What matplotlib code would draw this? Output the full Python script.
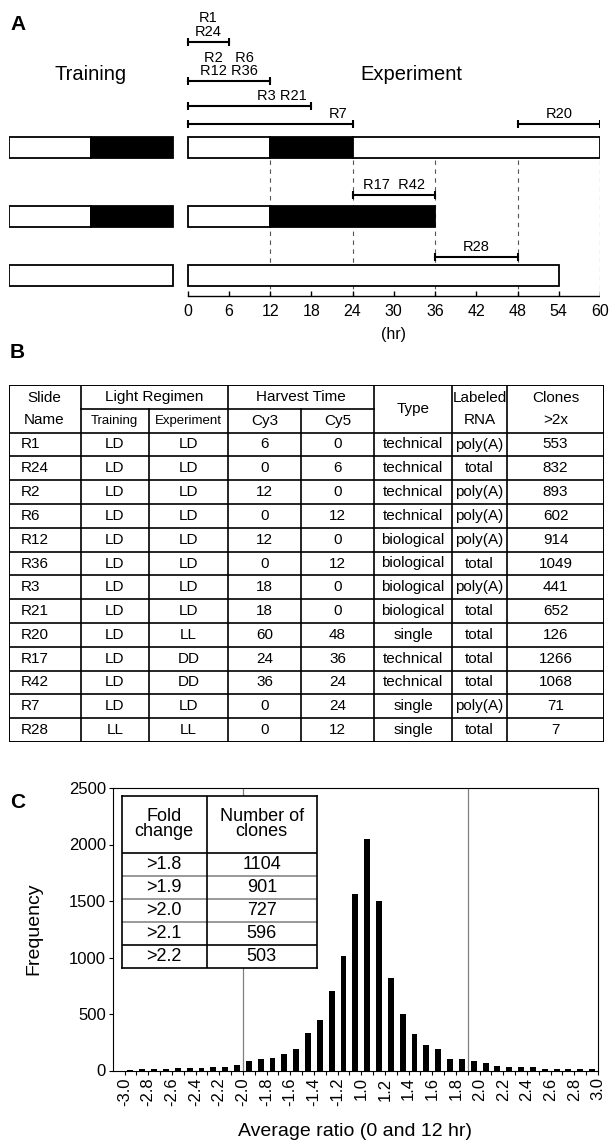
import matplotlib
matplotlib.use('Agg')
import matplotlib.pyplot as plt

plt.rcParams['font.family'] = ['Liberation Sans', 'DejaVu Sans']

# ---- panel A data ----
train_regimen = ['LD', 'LD', 'LL']
exp_schedule = [[(0, 12, 'L'), (12, 24, 'D'), (24, 60, 'L')],
                [(0, 12, 'L'), (12, 36, 'D')],
                [(0, 54, 'L')]]
pair_labels = [['R1', 'R24'], ['R2   R6', 'R12 R36'], ['R3 R21'], ['R7'],
               ['R20'], ['R17  R42'], ['R28']]
pair_start = [0, 0, 0, 0, 48, 24, 36]
pair_end = [6, 12, 18, 24, 60, 36, 48]
hour_ticks = list(range(0, 61, 6))
dash_hours = [12, 24, 36, 48, 60]

# ---- panel B data ----
slides = ['R1', 'R24', 'R2', 'R6', 'R12', 'R36', 'R3', 'R21', 'R20', 'R17', 'R42', 'R7', 'R28']
training = ['LD'] * 12 + ['LL']
experiment = ['LD', 'LD', 'LD', 'LD', 'LD', 'LD', 'LD', 'LD', 'LL', 'DD', 'DD', 'LD', 'LL']
cy3 = [6, 0, 12, 0, 12, 0, 18, 18, 60, 24, 36, 0, 0]
cy5 = [0, 6, 0, 12, 0, 12, 0, 0, 48, 36, 24, 24, 12]
types = ['technical', 'technical', 'technical', 'technical', 'biological', 'biological',
         'biological', 'biological', 'single', 'technical', 'technical', 'single', 'single']
rna = ['poly(A)', 'total', 'poly(A)', 'poly(A)', 'poly(A)', 'total', 'poly(A)', 'total',
       'total', 'total', 'total', 'poly(A)', 'total']
clones = [553, 832, 893, 602, 914, 1049, 441, 652, 126, 1266, 1068, 71, 7]

# ---- panel C data ----
freq = [0, 6, 15, 12, 15, 18, 18, 21, 35, 35,
        50, 80, 100, 112, 147, 186, 330, 448, 707, 1010,
        1562, 2045, 1497, 816, 498, 321, 227, 189, 106, 100,
        80, 62, 38, 35, 27, 27, 15, 9, 9, 9, 9]
xlabels = ['-3.0', '-2.8', '-2.6', '-2.4', '-2.2', '-2.0', '-1.8', '-1.6', '-1.4', '-1.2',
           '1.0', '1.2', '1.4', '1.6', '1.8', '2.0', '2.2', '2.4', '2.6', '2.8', '3.0']
fold = ['>1.8', '>1.9', '>2.0', '>2.1', '>2.2']
n_clones = [1104, 901, 727, 596, 503]

W, H = 609, 1142
fig = plt.figure(figsize=(W / 100, H / 100), dpi=100)


def px_axes(x0, y0, x1, y1):
    a = fig.add_axes([x0 / W, 1 - y1 / H, (x1 - x0) / W, (y1 - y0) / H])
    a.set_axis_off()
    return a


# panel letters
for lab, y in [('A', 25), ('B', 352), ('C', 802)]:
    fig.text(10 / W, 1 - y / H, lab, fontsize=15, fontweight='bold', va='center')

# ================= panel A =================
hpx = (600 - 187.6) / 60.0
axA = px_axes(8.5, 0, 600, 350)
axA.set_xlim(-(187.6 - 8.5) / hpx, 60)
axA.set_ylim(350, 0)
t0 = -(187.6 - 8.5) / hpx
row_y = [147.5, 216, 275.5]
bh = 21
for i, y in enumerate(row_y):
    if train_regimen[i] == 'LD':
        segs = [(t0, 12, 'L'), (t0 + 12, 12, 'D')]
    else:
        segs = [(t0, 24, 'L')]
    for s, w, c in segs:
        axA.barh(y, w, left=s, height=bh, color='k' if c == 'D' else 'w',
                 edgecolor='k', lw=1.3, zorder=3)
    for s, e, c in exp_schedule[i]:
        axA.barh(y, e - s, left=s, height=bh, color='k' if c == 'D' else 'w',
                 edgecolor='k', lw=1.3, zorder=3)

axA.vlines(dash_hours, 160, 296, colors='#555555', linestyles=(0, (4, 4)), lw=0.8, zorder=1)
axA.plot([0, 60], [296, 296], color='k', lw=1.0)
axA.vlines(hour_ticks, 291, 296, colors='k', lw=1.0)
for h in hour_ticks:
    axA.text(h, 312, str(h), ha='center', va='center', fontsize=11.5)
axA.text(30, 334, '(hr)', ha='center', va='center', fontsize=11.5)
axA.text(-14.1, 75, 'Training', ha='center', va='center', fontsize=14.5)
axA.text(32.6, 75, 'Experiment', ha='center', va='center', fontsize=14.5)

bracket_y = [42, 81, 106, 124, 124, 195, 257]
for k, labs in enumerate(pair_labels):
    s, e, y = pair_start[k], pair_end[k], bracket_y[k]
    axA.plot([s, e], [y, y], color='k', lw=1.5)
    axA.vlines([s, e], y - 4, y + 4, colors='k', lw=1.5)
    if k in (2, 3):
        xt, ha = e - 0.7, 'right'
    else:
        xt, ha = (s + e) / 2, 'center'
    for j, t in enumerate(reversed(labs)):
        axA.text(xt, y - 10 - 13.5 * j, t, ha=ha, va='center', fontsize=10.5)

# ================= panel B =================
x_edges = [8.5, 80.5, 149, 228, 301, 374, 452, 507, 604]
axB = px_axes(8.5, 385, 604, 742)
axB.set_xlim(8.5, 604)
axB.set_ylim(15, 0)
nrow = len(slides)
lk = dict(color='k', lw=1.2)
axB.plot([8.5, 604, 604, 8.5, 8.5], [0, 0, 15, 15, 0], color='k', lw=1.4)
axB.plot([x_edges[1], x_edges[5]], [1, 1], **lk)
for r in range(2, 15):
    axB.plot([8.5, 604], [r, r], **lk)
for c, xe in enumerate(x_edges[1:-1], start=1):
    if c in (2, 4):
        axB.plot([xe, xe], [1, 15], **lk)
    else:
        axB.plot([xe, xe], [0, 15], **lk)


def cx(c):
    return (x_edges[c] + x_edges[c + 1]) / 2


fs = 11
axB.text(cx(0), 0.55, 'Slide', ha='center', va='center', fontsize=fs)
axB.text(cx(0), 1.45, 'Name', ha='center', va='center', fontsize=fs)
axB.text((x_edges[1] + x_edges[3]) / 2, 0.5, 'Light Regimen', ha='center', va='center', fontsize=fs)
axB.text((x_edges[3] + x_edges[5]) / 2, 0.5, 'Harvest Time', ha='center', va='center', fontsize=fs)
axB.text(cx(1), 1.5, 'Training', ha='center', va='center', fontsize=9.5)
axB.text(cx(2), 1.5, 'Experiment', ha='center', va='center', fontsize=9.5)
axB.text(cx(3), 1.5, 'Cy3', ha='center', va='center', fontsize=fs)
axB.text(cx(4), 1.5, 'Cy5', ha='center', va='center', fontsize=fs)
axB.text(cx(5), 1.0, 'Type', ha='center', va='center', fontsize=fs)
axB.text(cx(6), 0.55, 'Labeled', ha='center', va='center', fontsize=fs)
axB.text(cx(6), 1.45, 'RNA', ha='center', va='center', fontsize=fs)
axB.text(cx(7), 0.55, 'Clones', ha='center', va='center', fontsize=fs)
axB.text(cx(7), 1.45, '>2x', ha='center', va='center', fontsize=fs)
for i in range(nrow):
    y = 2.5 + i
    axB.text(x_edges[0] + 12, y, slides[i], ha='left', va='center', fontsize=fs)
    vals = [training[i], experiment[i], cy3[i], cy5[i], types[i], rna[i], clones[i]]
    for c, v in enumerate(vals, start=1):
        axB.text(cx(c), y, str(v), ha='center', va='center', fontsize=fs)

# ================= panel C =================
axC = fig.add_axes([112.7 / W, 1 - 1070.5 / H, (598 - 112.7) / W, (1070.5 - 788) / H])
pos = list(range(len(freq)))
axC.bar(pos, freq, width=0.5, color='k', zorder=3)
axC.set_xlim(-0.5, len(freq) - 0.5)
axC.set_ylim(0, 2500)
axC.set_yticks(range(0, 2501, 500))
axC.tick_params(axis='y', labelsize=12, length=3, width=0.8, pad=2)
axC.set_xticks([p + 0.5 for p in pos[::2]])
axC.set_xticklabels(xlabels, rotation=90, fontsize=12)
axC.set_xticks([p + 0.5 for p in pos], minor=True)
axC.tick_params(axis='x', which='both', length=3, width=0.8, pad=2)
for sp in axC.spines.values():
    sp.set_linewidth(0.8)
axC.axvline(10.5, color='#808080', lw=0.9, zorder=1)
axC.axvline(29.5, color='#808080', lw=0.9, zorder=1)
fig.text(34 / W, 1 - 929 / H, 'Frequency', rotation=90, ha='center', va='center', fontsize=14)
fig.text(355 / W, 1 - 1132 / H, 'Average ratio (0 and 12 hr)', ha='center', va='center', fontsize=14)

# inset table
axT = fig.add_axes([121.7 / W, 1 - 968.3 / H, (317 - 121.7) / W, (968.3 - 796) / H])
axT.set_xlim(121.7, 317)
axT.set_ylim(968.3, 796)
axT.set_xticks([])
axT.set_yticks([])
axT.set_facecolor('w')
axT.set_zorder(5)
for sp in axT.spines.values():
    sp.set_linewidth(1.2)
row_top = [852.7, 875.8, 898.9, 922.0, 945.2]
axT.plot([121.7, 317], [852.7, 852.7], color='k', lw=1.2)
for k, y in enumerate(row_top[1:]):
    axT.plot([121.7, 317], [y, y], color='k' if k == 3 else '#888888', lw=1.2)
axT.plot([206.7, 206.7], [796, 968.3], color='k', lw=1.2)
axT.text(164.2, 824, 'Fold\nchange', ha='center', va='center', fontsize=13, linespacing=0.85)
axT.text(261.8, 824, 'Number of\nclones', ha='center', va='center', fontsize=13, linespacing=0.85)
for k in range(len(fold)):
    y = row_top[k] + 11.6
    axT.text(164.2, y, fold[k], ha='center', va='center', fontsize=13)
    axT.text(261.8, y, str(n_clones[k]), ha='center', va='center', fontsize=13)

fig.savefig('out.png', dpi=100)
